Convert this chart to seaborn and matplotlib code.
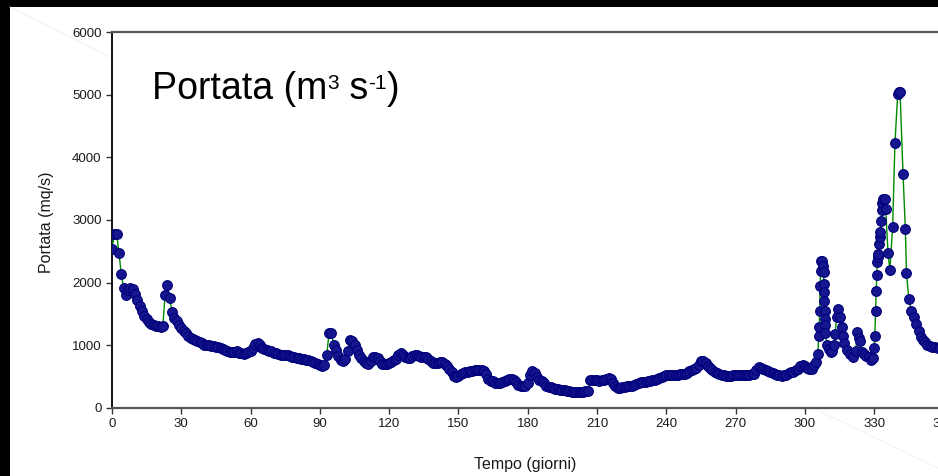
import numpy as np
import pandas as pd
import matplotlib
matplotlib.use("Agg")
import matplotlib.pyplot as plt
import seaborn as sns
from matplotlib.lines import Line2D
from matplotlib.patches import Rectangle
from matplotlib.transforms import offset_copy

# ---------------- data ----------------
base_days = list(range(0, 306))
base_vals = [
    2540, 2780, 2780, 2480, 2140, 1920, 1800, 1880, 1920, 1900,   # 0-9
    1820, 1720, 1620, 1540, 1470, 1420, 1370, 1340, 1320, 1310,   # 10-19
    1300, 1295, 1310, 1800, 1960, 1750, 1530, 1440, 1380, 1320,   # 20-29
    1280, 1230, 1190, 1150, 1120, 1100, 1080, 1065, 1050, 1030,   # 30-39
    1010, 1000, 995, 990, 980, 975, 965, 960, 945, 930,           # 40-49
    910, 895, 885, 890, 900, 880, 870, 865, 875, 885,             # 50-59
    900, 960, 1020, 1030, 1000, 960, 940, 930, 912, 900,          # 60-69
    880, 870, 860, 850, 848, 845, 835, 825, 816, 810,             # 70-79
    800, 795, 785, 779, 770, 755, 740, 725, 715, 700,             # 80-89
    680, 660, 680, 850, 1200, 1190, 1000, 920, 820, 760,          # 90-99
    750, 780, 900, 1080, 1070, 1000, 930, 850, 790, 745,          # 100-109
    720, 700, 740, 810, 815, 790, 740, 700, 700, 705,             # 110-119
    710, 730, 760, 780, 840, 870, 850, 810, 800, 800,             # 120-129
    830, 848, 845, 830, 815, 810, 805, 780, 740, 715,             # 130-139
    709, 720, 725, 725, 700, 660, 620, 570, 510, 485,             # 140-149
    500, 540, 555, 565, 570, 580, 590, 595, 600, 600,             # 150-159
    595, 590, 540, 460, 430, 420, 400, 390, 395, 405,             # 160-169
    420, 440, 455, 460, 450, 410, 360, 350, 345, 340,             # 170-179
    400, 530, 590, 560, 490, 450, 430, 390, 352, 335,             # 180-189
    330, 310, 300, 295, 290, 285, 283, 270, 261, 255,             # 190-199
    250, 248, 245, 250, 255, 261, 267, 440, 450, 445,             # 200-209
    440, 432, 443, 450, 465, 475, 460, 400, 350, 320,             # 210-219
    315, 325, 335, 340, 345, 352, 365, 385, 400, 405,             # 220-229
    405, 410, 420, 430, 440, 450, 459, 480, 495, 505,             # 230-239
    515, 520, 520, 520, 525, 530, 535, 540, 545, 560,             # 240-249
    580, 600, 620, 640, 690, 740, 745, 715, 670, 630,             # 250-259
    595, 570, 550, 535, 525, 515, 510, 508, 510, 515,             # 260-269
    520, 520, 520, 522, 525, 528, 530, 532, 545, 610,             # 270-279
    650, 640, 615, 595, 580, 570, 555, 540, 525, 515,             # 280-289
    510, 515, 530, 550, 565, 575, 595, 625, 660, 680,             # 290-299
    665, 635, 615, 625, 675, 725,                                 # 300-305
]

flood_days = [
    305.6, 306.0, 306.2, 306.4, 306.6, 306.8, 307.0, 307.4,
    308.0, 308.1, 308.2, 308.3, 308.4, 308.5, 308.6, 308.7, 308.8,
    309.6, 310.5, 311.2, 311.8, 312.5, 313.1, 313.8, 314.3, 315.3,
    315.9, 316.5, 317.0, 318.1, 319.5, 321.0, 322.0, 322.7, 323.3,
    323.8, 324.6, 325.5, 326.5, 327.7, 328.8, 329.5, 330.0, 330.3,
    330.6, 330.9, 331.1, 331.3, 331.5, 331.7, 332.1, 332.4, 332.7,
    333.0, 333.3, 333.6, 334.0, 334.6, 335.0, 336.0, 336.8, 338.0,
    339.0, 340.2, 340.7, 341.2, 342.5, 343.5, 344.0, 345.0, 346.0,
    347.2, 348.3, 349.3, 350.3, 351.0, 351.9, 353.0, 354.0, 355.0,
    356.3, 357.5, 358.5,
]
flood_vals = [
    860, 1150, 1285, 1550, 1940, 2180, 2350, 2350,
    2260, 2165, 1980, 1856, 1700, 1541, 1411, 1323, 1189,
    1000, 939, 885, 900, 1000, 1179, 1450, 1579, 1445,
    1285, 1150, 1029, 923, 859, 816, 900, 1205, 1120,
    1061, 896, 859, 830, 816, 760, 800, 955, 1152,
    1541, 1861, 2123, 2325, 2405, 2460, 2619, 2725, 2816,
    2992, 3152, 3269, 3339, 3339, 3179, 2469, 2203, 2885,
    4229, 5019, 5045, 5050, 3728, 2859, 2149, 1739, 1552,
    1445, 1339, 1232, 1125, 1080, 1045, 1010, 992, 975,
    965, 960, 955,
]

x_ticks = [0, 30, 60, 90, 120, 150, 180, 210, 240, 270, 300, 330, 360]
y_ticks = [0, 1000, 2000, 3000, 4000, 5000, 6000]

df = pd.DataFrame({"Tempo": base_days + flood_days,
                   "Portata": base_vals + flood_vals})

# ---------------- style ----------------
sns.set_theme(style="white")
plt.rcParams["font.family"] = ["Liberation Sans", "DejaVu Sans"]

W, H = 938, 476
fig = plt.figure(figsize=(W / 100, H / 100), dpi=100)
fig.patch.set_facecolor("black")
fig.patches.append(Rectangle((10 / W, 0), 1, 1 - 7 / H, transform=fig.transFigure,
                             facecolor="white", edgecolor="none", zorder=-3))
# faint diagonal slide guides
fig.lines.append(Line2D([10 / W, 110 / W], [1 - 7 / H, 1 - 57 / H],
                        transform=fig.transFigure, color="#f0f0f0", lw=0.7, zorder=-2))
fig.lines.append(Line2D([813 / W, 938 / W], [1 - 408 / H, 1 - 468 / H],
                        transform=fig.transFigure, color="#f0f0f0", lw=0.7, zorder=-2))

ax_left, ax_right = 112, 955
ax_bottom, ax_top = 407.7, 32.3
ax = fig.add_axes([ax_left / W, (H - ax_bottom) / H,
                   (ax_right - ax_left) / W, (ax_bottom - ax_top) / H])
ax.set_facecolor("none")

sns.lineplot(data=df, x="Tempo", y="Portata", ax=ax, sort=True, estimator=None,
             color="#008a00", linewidth=1.0, marker="o", markersize=7,
             markerfacecolor="#16168e", markeredgecolor="#00007a",
             markeredgewidth=0.8, zorder=3)

ax.set_xlim(0, 365)
ax.set_ylim(0, 6000)
ax.set_xticks(x_ticks)
ax.set_yticks(y_ticks)
ax.tick_params(axis="both", which="major", direction="out", length=4.5, width=1.0,
               color="#333333", labelsize=9.5, pad=3, bottom=True, left=True,
               labelcolor="#1a1a1a")
ax.grid(False)

for side in ["top", "bottom"]:
    ax.spines[side].set_color("#555555")
    ax.spines[side].set_linewidth(1.6)
ax.spines["left"].set_color("#111111")
ax.spines["left"].set_linewidth(1.4)
ax.spines["right"].set_visible(False)

ax.set_xlabel("")
ax.set_ylabel("")
fig.text(525 / W, 1 - 465 / H, "Tempo (giorni)", ha="center", va="center",
         fontsize=11.5, color="#1a1a1a")
fig.text(46 / W, 1 - 222 / H, "Portata (mq/s)", ha="center", va="center",
         rotation=90, fontsize=11.5, color="#1a1a1a")

# ---- title "Portata (m3 s-1)" with small superscripts ----
F = 27
SUP = 15
renderer = fig.canvas.get_renderer()
x0_px, base_px = 152, H - 99.3          # display coords (origin bottom-left)
pieces = [("Portata (m", F, 0), ("3", SUP, 10.5), (" s", F, 0),
          ("-1", SUP, 10.5), (")", F, 0)]
cur_x = x0_px
for txt, size, rise in pieces:
    t = fig.text(cur_x / W, (base_px + rise) / H, txt, fontsize=size,
                 ha="left", va="baseline", color="black")
    bb = t.get_window_extent(renderer=renderer)
    cur_x = bb.x1

fig.savefig("out.png", dpi=100, facecolor=fig.get_facecolor())
